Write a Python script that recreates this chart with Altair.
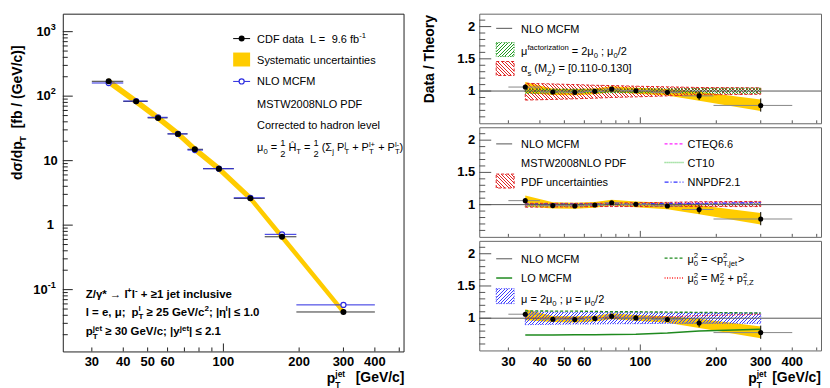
import math
import altair as alt
import pandas as pd

# ---------------- data ----------------
pt_center = [35, 45, 55, 66, 77, 96, 128, 171, 300]
pt_low = [30, 40, 50, 60, 72, 83, 110, 146, 195]
pt_high = [40, 50, 60, 72, 83, 110, 146, 195, 400]

xsec_data = [170, 83, 46, 26, 15, 7.5, 2.6, 0.66, 0.045]
xsec_stat_lo = [165, 81.5, 45.2, 25.5, 14.7, 7.33, 2.53, 0.63, 0.041]
xsec_stat_hi = [175, 84.5, 46.8, 26.5, 15.3, 7.67, 2.67, 0.69, 0.049]
xsec_sys_lo = [148, 73, 40.5, 23, 13.2, 6.6, 2.3, 0.58, 0.040]
xsec_sys_hi = [192, 94, 52, 29.5, 17, 8.5, 2.95, 0.75, 0.051]
xsec_nlo = [160, 84, 47, 26, 14.6, 7.5, 2.65, 0.72, 0.058]

ratio_data = [1.062, 0.985, 0.98, 0.995, 1.03, 1.005, 0.98, 0.925, 0.777]
ratio_stat_lo = [1.04, 0.97, 0.965, 0.98, 1.01, 0.985, 0.95, 0.86, 0.68]
ratio_stat_hi = [1.085, 1.0, 0.995, 1.01, 1.05, 1.025, 1.01, 0.99, 0.885]
ratio_sys_lo = [0.97, 0.94, 0.935, 0.95, 0.985, 0.96, 0.93, 0.85, 0.69]
ratio_sys_hi = [1.14, 1.035, 1.03, 1.04, 1.075, 1.05, 1.03, 0.99, 0.87]

muF_lo = [0.965, 0.97, 0.97, 0.975, 0.975, 0.975, 0.97, 0.97, 0.965]
muF_hi = [1.035, 1.03, 1.03, 1.03, 1.03, 1.035, 1.035, 1.04, 1.045]
alphas_lo = [0.86, 0.87, 0.88, 0.89, 0.90, 0.91, 0.925, 0.94, 0.95]
alphas_hi = [1.12, 1.11, 1.10, 1.09, 1.085, 1.075, 1.065, 1.055, 1.05]

pdf_lo = [0.96, 0.965, 0.965, 0.97, 0.97, 0.97, 0.97, 0.97, 0.97]
pdf_hi = [1.02, 1.02, 1.02, 1.02, 1.025, 1.03, 1.035, 1.045, 1.05]
cteq66 = [0.99, 0.99, 0.99, 1.0, 1.0, 1.0, 1.01, 1.02, 1.03]
ct10 = [0.98, 0.985, 0.99, 0.99, 1.0, 1.0, 1.0, 1.01, 1.02]
nnpdf21 = [1.01, 1.01, 1.01, 1.01, 1.01, 1.01, 1.02, 1.02, 1.03]

scale_lo = [0.90, 0.905, 0.91, 0.91, 0.915, 0.915, 0.92, 0.92, 0.92]
scale_hi = [1.10, 1.095, 1.09, 1.09, 1.085, 1.085, 1.08, 1.08, 1.08]
lo_mcfm = [0.74, 0.74, 0.742, 0.745, 0.748, 0.752, 0.77, 0.80, 0.83]
mu_ptjet = [1.115, 1.11, 1.11, 1.105, 1.10, 1.10, 1.095, 1.09, 1.08]
mu_mzptz = [1.0, 1.0, 1.0, 1.0, 1.01, 1.01, 1.02, 1.04, 1.06]

x_tick_labels = [30, 40, 50, 60, 100, 200, 300, 400]
y_left_sup_vals = [1000, 100, 0.1]
y_left_sup_text = ["3", "2", "-1"]
y_ratio_labels = [1, 1.5, 2]

df = pd.DataFrame(dict(
    pt=pt_center, lo=pt_low, hi=pt_high,
    d=xsec_data, d_lo=xsec_stat_lo, d_hi=xsec_stat_hi,
    s_lo=xsec_sys_lo, s_hi=xsec_sys_hi, nlo=xsec_nlo,
    r=ratio_data, r_lo=ratio_stat_lo, r_hi=ratio_stat_hi,
    rs_lo=ratio_sys_lo, rs_hi=ratio_sys_hi,
    muF_lo=muF_lo, muF_hi=muF_hi, as_lo=alphas_lo, as_hi=alphas_hi,
    pdf_lo=pdf_lo, pdf_hi=pdf_hi, cteq=cteq66, ct10=ct10, nnpdf=nnpdf21,
    sc_lo=scale_lo, sc_hi=scale_hi, lo_mcfm=lo_mcfm, mu1=mu_ptjet, mu2=mu_mzptz,
))

# ---------------- layout / style ----------------
FONT = "Liberation Sans"
X_DOM = [23, 520]
WL, HL = 342, 339
WR, HR = 343, 110
Y_DOM_L = [0.011, 1900]
Y_DOM_R = [0.5, 2.2]
OL = (62, 8)
OR1 = (477, 12)
OR2 = (477, 124)
OR3 = (477, 236)

xsL = alt.Scale(type="log", domain=X_DOM, nice=False)
xsR = alt.Scale(type="log", domain=X_DOM, nice=False)
ysL = alt.Scale(type="log", domain=Y_DOM_L, nice=False)
ysR = alt.Scale(type="linear", domain=Y_DOM_R, nice=False, zero=False)

one = pd.DataFrame({"k": [0]})

REG = {' ': 278, '(': 333, ')': 333, '*': 389, '+': 584, ',': 278, '-': 333, '.': 278, '/': 278,
       ':': 278, ';': 278, '<': 584, '=': 584, '>': 584, '[': 278, ']': 278, '|': 260,
       'A': 667, 'B': 667, 'C': 722, 'D': 722, 'E': 667, 'F': 611, 'G': 778, 'H': 722, 'I': 278,
       'J': 500, 'K': 667, 'L': 556, 'M': 833, 'N': 722, 'O': 778, 'P': 667, 'Q': 778, 'R': 722,
       'S': 667, 'T': 611, 'U': 722, 'V': 667, 'W': 944, 'X': 667, 'Y': 667, 'Z': 611,
       'a': 556, 'b': 556, 'c': 500, 'd': 556, 'e': 556, 'f': 278, 'g': 556, 'h': 556, 'i': 222,
       'j': 222, 'k': 500, 'l': 222, 'm': 833, 'n': 556, 'o': 556, 'p': 556, 'q': 556, 'r': 333,
       's': 500, 't': 278, 'u': 556, 'v': 500, 'w': 722, 'x': 500, 'y': 500, 'z': 500,
       'μ': 576, 'α': 578, 'σ': 617, 'γ': 500, 'η': 556, 'Σ': 639, '→': 1000, '≥': 549, '≤': 549, 'Ĥ': 722}
BOLD = dict(REG)
BOLD.update({':': 333, ';': 333, '[': 333, ']': 333, '|': 280, 'A': 722, 'B': 722, 'J': 556, 'K': 722,
             'L': 611, 'b': 611, 'c': 556, 'd': 611, 'f': 333, 'g': 611, 'h': 611, 'i': 278, 'j': 278,
             'k': 556, 'l': 278, 'm': 889, 'n': 611, 'o': 611, 'p': 611, 'q': 611, 'r': 389, 's': 556,
             't': 333, 'u': 611, 'v': 556, 'w': 778, 'x': 556, 'y': 556})
KINDS = {'n': (1.0, 0.0), 'sub': (0.7, 0.3), 'sup': (0.7, -0.42),
         'tsub': (0.6, 0.3), 'tsup': (0.6, -0.45),
         'fn': (0.85, -0.5), 'fd': (0.85, 0.55)}


def twidth(s, size, bold):
    tbl = BOLD if bold else REG
    return sum(tbl.get(ch, 556) for ch in s) / 1000.0 * size


def rich(pieces, x0, y0, size, origin, bold=False, vertical=False):
    ox, oy = origin
    rows = []
    adv = 0.0
    prev_start, prev_w = 0.0, 0.0
    for text, kind in pieces:
        stacked = kind.endswith('&')
        sf, dyf = KINDS[kind.rstrip('&')]
        fs = size * sf
        stripped = text.lstrip(' ')
        lead = twidth(text[:len(text) - len(stripped)], fs, bold)
        w = twidth(text, fs, bold)
        if stacked:
            start = prev_start
            prev_w = max(prev_w, w)
            adv = prev_start + prev_w
        else:
            start = adv
            adv = adv + w
            prev_start, prev_w = start, w
        off = dyf * size
        if vertical:
            px, py = x0 + off, y0 - start - lead
        else:
            px, py = x0 + start + lead, y0 + off
        rows.append(dict(px=px - ox, py=py - oy, t=stripped, fs=fs))
    return rows


def text_layer(rows, bold=False, angle=None, color="black"):
    kw = dict(align="left", baseline="alphabetic", font=FONT, color=color)
    if bold:
        kw["fontWeight"] = "bold"
    if angle is not None:
        kw["angle"] = angle
    return alt.Chart(pd.DataFrame(rows)).mark_text(**kw).encode(
        x=alt.X("px:Q", scale=None, axis=None),
        y=alt.Y("py:Q", scale=None, axis=None),
        text="t:N",
        size=alt.Size("fs:Q", scale=None, legend=None),
    )


def seg(x1, x2, y1, y2, origin, color, width=1.0, dash=None):
    ox, oy = origin
    kw = dict(color=color, strokeWidth=width)
    if dash:
        kw["strokeDash"] = dash
    return alt.Chart(one).mark_rule(**kw).encode(
        x=alt.value(x1 - ox), x2=alt.value(x2 - ox), y=alt.value(y1 - oy), y2=alt.value(y2 - oy))


def spacer(x, y1, y2):
    return alt.Chart(one).mark_rule(opacity=0, strokeWidth=0.01).encode(
        x=alt.value(x), x2=alt.value(x), y=alt.value(y1), y2=alt.value(y2))


def box(x1, x2, y1, y2, origin, fill, stroke=None, dash=None):
    ox, oy = origin
    kw = dict(fill=fill, opacity=1)
    if stroke:
        kw["stroke"] = stroke
        kw["strokeWidth"] = 1
    if dash:
        kw["strokeDash"] = dash
    return alt.Chart(one).mark_rect(**kw).encode(
        x=alt.value(x1 - ox), x2=alt.value(x2 - ox), y=alt.value(y1 - oy), y2=alt.value(y2 - oy))


def hatch(color, W, H, direction, period=3.4, lw=1.0):
    r = H / W
    k = (1 + r) / (1 + r * r)
    span = W + H
    dt, lwt = period / span, lw / span
    clear = "rgba(255,255,255,0)"
    stops = [{"offset": 0.0, "color": clear}]
    t = dt * 0.5
    while t + lwt < 1.0:
        a, b = round(t, 5), round(t + lwt, 5)
        stops += [{"offset": a, "color": clear}, {"offset": a, "color": color},
                  {"offset": b, "color": color}, {"offset": b, "color": clear}]
        t += dt
    stops.append({"offset": 1.0, "color": clear})
    if direction == "/":
        return {"gradient": "linear", "x1": 0, "y1": 0, "x2": k, "y2": k * r, "stops": stops}
    return {"gradient": "linear", "x1": 0, "y1": 1, "x2": k, "y2": 1 - k * r, "stops": stops}


def xpix(v):
    return WR * (math.log10(v) - math.log10(X_DOM[0])) / (math.log10(X_DOM[1]) - math.log10(X_DOM[0]))


BAND_W = xpix(pt_center[-1]) - xpix(pt_center[0])


def band_h(lo, hi):
    return (max(hi) - min(lo)) * HR / (Y_DOM_R[1] - Y_DOM_R[0])


GREEN_H, RED_H, BLUE_H = "#1f9a1f", "#e02424", "#3a3aff"


# ---------------- tick labels (drawn through the scales) ----------------
def x_labels(xs, y):
    d = pd.DataFrame({"v": x_tick_labels, "t": [str(v) for v in x_tick_labels]})
    return alt.Chart(d).mark_text(align="center", baseline="alphabetic", font=FONT, fontWeight="bold",
                                  fontSize=13, color="black").encode(
        x=alt.X("v:Q", scale=xs, axis=None), y=alt.value(y), text="t:N")


def y_labels_left():
    layers = []
    sup_w = [twidth(s, 13 * 0.7, True) for s in y_left_sup_text]
    d_sup = pd.DataFrame({"v": y_left_sup_vals, "t": y_left_sup_text})
    layers.append(alt.Chart(d_sup).mark_text(align="right", baseline="middle", font=FONT, fontWeight="bold",
                                             fontSize=13 * 0.7, color="black", dy=-5).encode(
        y=alt.Y("v:Q", scale=ysL, axis=None), x=alt.value(-7), text="t:N"))
    for v, w in zip(y_left_sup_vals, sup_w):
        layers.append(alt.Chart(pd.DataFrame({"v": [v], "t": ["10"]})).mark_text(
            align="right", baseline="middle", font=FONT, fontWeight="bold", fontSize=13, color="black").encode(
            y=alt.Y("v:Q", scale=ysL, axis=None), x=alt.value(-7 - w), text="t:N"))
    layers.append(alt.Chart(pd.DataFrame({"v": [10], "t": ["10"]})).mark_text(
        align="right", baseline="middle", font=FONT, fontWeight="bold", fontSize=13, color="black").encode(
        y=alt.Y("v:Q", scale=ysL, axis=None), x=alt.value(-5), text="t:N"))
    layers.append(alt.Chart(pd.DataFrame({"v": [1], "t": ["1"]})).mark_text(
        align="right", baseline="middle", font=FONT, fontWeight="bold", fontSize=13, color="black").encode(
        y=alt.Y("v:Q", scale=ysL, axis=None), x=alt.value(-9), text="t:N"))
    return layers


def y_labels_ratio():
    d = pd.DataFrame({"v": y_ratio_labels, "t": ["1", "1.5", "2"]})
    return alt.Chart(d).mark_text(align="right", baseline="middle", font=FONT, fontWeight="bold",
                                  fontSize=13, color="black").encode(
        y=alt.Y("v:Q", scale=ysR, axis=None), x=alt.value(-4), text="t:N")


# ---------------- tick marks (inward, ROOT style) ----------------
x_minor = [30, 40, 50, 60, 70, 80, 90, 200, 300, 400, 500]
x_major = [100]
yL_major = [0.1, 1, 10, 100, 1000]
yL_minor = [m * 10.0 ** e for e in range(-2, 4) for m in range(2, 10)
            if Y_DOM_L[0] < m * 10.0 ** e < Y_DOM_L[1]]
yR_major = [1, 1.5, 2]
yR_minor = [0.6, 0.7, 0.8, 0.9, 1.1, 1.2, 1.3, 1.4, 1.6, 1.7, 1.8, 1.9, 2.1]


def xticks(vals, xs, H, L, color):
    return alt.Chart(pd.DataFrame({"v": vals})).mark_rule(color=color, strokeWidth=1).encode(
        x=alt.X("v:Q", scale=xs, axis=None), y=alt.value(H), y2=alt.value(H - L))


def yticks(vals, ys, L, color):
    return alt.Chart(pd.DataFrame({"v": vals})).mark_rule(color=color, strokeWidth=1).encode(
        y=alt.Y("v:Q", scale=ys, axis=None), x=alt.value(0), x2=alt.value(L))


# ---------------- left panel ----------------
base = alt.Chart(df)
L_band = base.mark_area(color="#ffcc00", opacity=1).encode(
    x=alt.X("pt:Q", scale=xsL, axis=None),
    y=alt.Y("s_lo:Q", scale=ysL, axis=None), y2="s_hi:Q")
L_dh = base.mark_rule(color="#333333", strokeWidth=1).encode(
    x=alt.X("lo:Q", scale=xsL, axis=None), x2="hi:Q", y=alt.Y("d:Q", scale=ysL, axis=None))
L_dv = base.mark_rule(color="#333333", strokeWidth=1).encode(
    x=alt.X("pt:Q", scale=xsL, axis=None), y=alt.Y("d_lo:Q", scale=ysL, axis=None), y2="d_hi:Q")
L_nh = base.mark_rule(color="#2a2ae0", strokeWidth=1).encode(
    x=alt.X("lo:Q", scale=xsL, axis=None), x2="hi:Q", y=alt.Y("nlo:Q", scale=ysL, axis=None))
L_np = base.mark_point(shape="circle", size=26, stroke="#2a2ae0", fill="white", strokeWidth=1.2,
                       opacity=1, fillOpacity=1).encode(
    x=alt.X("pt:Q", scale=xsL, axis=None), y=alt.Y("nlo:Q", scale=ysL, axis=None))
L_dp = base.mark_circle(size=36, color="black", opacity=1).encode(
    x=alt.X("pt:Q", scale=xsL, axis=None), y=alt.Y("d:Q", scale=ysL, axis=None))

L_ticks = [xticks(x_minor, xsL, HL, 4, "#222"), xticks(x_major, xsL, HL, 8, "#222"),
           yticks(yL_minor, ysL, 5, "#222"), yticks(yL_major, ysL, 10, "#222")]

L_leg = [
    seg(233, 250, 33, 33, OL, "black"),
    alt.Chart(one).mark_circle(size=36, color="black", opacity=1).encode(
        x=alt.value(241.5 - OL[0]), y=alt.value(33 - OL[1])),
    box(233, 250, 47, 61, OL, "#ffcc00"),
    seg(233, 250, 76, 76, OL, "#2a2ae0"),
    alt.Chart(one).mark_point(shape="circle", size=26, stroke="#2a2ae0", fill="white", strokeWidth=1.2,
                              opacity=1, fillOpacity=1).encode(
        x=alt.value(241.5 - OL[0]), y=alt.value(76 - OL[1])),
]

L_reg = []
L_reg += rich([("CDF data", "n"), ("  L =", "n"), ("  9.6 fb", "n"), ("-1", "sup")], 257, 37, 11, OL)
L_reg += rich([("Systematic uncertainties", "n")], 257, 59, 11, OL)
L_reg += rich([("NLO MCFM", "n")], 257, 80, 11, OL)
L_reg += rich([("MSTW2008NLO PDF", "n")], 257, 103, 11, OL)
L_reg += rich([("Corrected to hadron level", "n")], 257, 124, 11, OL)
L_reg += rich([("μ", "n"), ("0", "sub"), (" = ", "n"), ("1", "fn"), ("2", "fd&"), (" Ĥ", "n"), ("T", "sub"),
               (" = ", "n"), ("1", "fn"), ("2", "fd&"), (" (Σ", "n"), ("j", "sub"), (" P", "n"), ("T", "sub"),
               ("j", "sup&"), (" + P", "n"), ("T", "sub"), ("l+", "sup&"), (" + P", "n"), ("T", "sub"),
               ("l-", "sup&"), (")", "n")], 257, 146, 11, OL)

L_bold = []
L_bold += rich([("Z/γ* → l", "n"), ("+", "sup"), ("l", "n"), ("-", "sup"), (" + ≥1 jet inclusive", "n")],
               85, 293, 11.5, OL, bold=True)
L_bold += rich([("l = e, μ;", "n"), ("  p", "n"), ("T", "sub"), ("l", "sup&"), (" ≥ 25 GeV/c", "n"), ("2", "sup"),
                ("; |η", "n"), ("l", "sup"), ("| ≤ 1.0", "n")], 85, 311, 11.5, OL, bold=True)
L_bold += rich([("p", "n"), ("T", "sub"), ("jet", "sup&"), (" ≥ 30 GeV/c; |y", "n"), ("jet", "sup"),
                ("| ≤ 2.1", "n")], 85, 331, 11.5, OL, bold=True)

L_title = []
L_title += rich([("p", "n"), ("T", "tsub"), ("jet", "tsup&")], 327, 379, 14, OL, bold=True)
L_title += rich([("[GeV/c]", "n")], 356, 378, 14, OL, bold=True)

L_vtitle = rich([("dσ/dp", "n"), ("T", "sub"), ("  [fb / (GeV/c)]", "n")], 21, 175, 14, OL, bold=True,
                vertical=True)

left = alt.layer(
    L_band, L_dh, L_dv, L_nh, L_np, L_dp, *L_ticks, *L_leg,
    x_labels(xsL, HL + 14.4), *y_labels_left(),
    text_layer(L_reg), text_layer(L_bold, bold=True), text_layer(L_title, bold=True),
    text_layer(L_vtitle, bold=True, angle=270),
    spacer(-54, 0, 1),
).properties(width=WL, height=HL, view=alt.ViewBackground(stroke="#222", strokeWidth=1))


# ---------------- ratio panels ----------------
def ratio_band():
    return base.mark_area(color="#ffcc00", opacity=1).encode(
        x=alt.X("pt:Q", scale=xsR, axis=None),
        y=alt.Y("rs_lo:Q", scale=ysR, axis=None), y2="rs_hi:Q")


def hband(lo_col, hi_col, lo, hi, color, direction, dash):
    return base.mark_area(fill=hatch(color, BAND_W, band_h(lo, hi), direction), stroke=color,
                          strokeWidth=1, strokeDash=dash, opacity=1).encode(
        x=alt.X("pt:Q", scale=xsR, axis=None), y=alt.Y(lo_col + ":Q", scale=ysR, axis=None), y2=hi_col + ":Q")


def rline(col, color, dash=None, width=1.2):
    kw = dict(color=color, strokeWidth=width)
    if dash:
        kw["strokeDash"] = dash
    return base.mark_line(**kw).encode(x=alt.X("pt:Q", scale=xsR, axis=None),
                                       y=alt.Y(col + ":Q", scale=ysR, axis=None))


def ratio_common_post():
    return [
        alt.Chart(one).mark_rule(color="#555555", strokeWidth=1).encode(y=alt.datum(1, scale=ysR, axis=None)),
        base.mark_rule(color="#888888", strokeWidth=1).encode(
            x=alt.X("lo:Q", scale=xsR, axis=None), x2="hi:Q", y=alt.Y("r:Q", scale=ysR, axis=None)),
        base.mark_rule(color="black", strokeWidth=1).encode(
            x=alt.X("pt:Q", scale=xsR, axis=None), y=alt.Y("r_lo:Q", scale=ysR, axis=None), y2="r_hi:Q"),
        base.mark_circle(size=26, color="black", opacity=1).encode(
            x=alt.X("pt:Q", scale=xsR, axis=None), y=alt.Y("r:Q", scale=ysR, axis=None)),
        xticks(x_minor, xsR, HR, 3, "#555"), xticks(x_major, xsR, HR, 6, "#555"),
        yticks(yR_minor, ysR, 6, "#555"), yticks(yR_major, ysR, 12, "#555"),
        y_labels_ratio(),
    ]


def lbox(y1, y2, origin, color, direction, dash):
    return box(494, 512, y1, y2, origin, hatch(color, 18, y2 - y1, direction), stroke=color, dash=dash)


GRAY = "#555555"
VIEW_R = alt.ViewBackground(stroke="#666", strokeWidth=1)

# panel 1
R1_reg = []
R1_reg += rich([("NLO MCFM", "n")], 519, 31, 11, OR1)
R1_reg += rich([("μ", "n"), ("factorization", "sup"), (" = 2μ", "n"), ("0", "sub"), (" ; μ", "n"), ("0", "sub"),
                ("/2", "n")], 519, 53, 11, OR1)
R1_reg += rich([("α", "n"), ("s", "sub"), (" (M", "n"), ("Z", "sub"), (") = [0.110-0.130]", "n")], 519, 71, 11, OR1)
R1_vt = rich([("Data / Theory", "n")], 432, 102, 14, OR1, bold=True, vertical=True)

R1 = alt.layer(
    ratio_band(),
    hband("as_lo", "as_hi", alphas_lo, alphas_hi, RED_H, "\\", [3, 2]),
    hband("muF_lo", "muF_hi", muF_lo, muF_hi, GREEN_H, "/", [1, 1.5]),
    *ratio_common_post(),
    seg(494, 510, 26.7, 26.7, OR1, GRAY),
    lbox(41, 55, OR1, GREEN_H, "/", [1, 1.5]),
    lbox(60, 74, OR1, RED_H, "\\", [3, 2]),
    text_layer(R1_reg), text_layer(R1_vt, bold=True, angle=270),
    spacer(-57, -4, 0),
).properties(width=WR, height=HR, view=VIEW_R)

# panel 2
R2_reg = []
R2_reg += rich([("NLO MCFM", "n")], 519, 145, 11, OR2)
R2_reg += rich([("MSTW2008NLO PDF", "n")], 519, 164, 11, OR2)
R2_reg += rich([("PDF uncertainties", "n")], 519, 183, 11, OR2)
R2_reg += rich([("CTEQ6.6", "n")], 686, 145, 11, OR2)
R2_reg += rich([("CT10", "n")], 686, 164, 11, OR2)
R2_reg += rich([("NNPDF2.1", "n")], 686, 183, 11, OR2)

R2 = alt.layer(
    ratio_band(),
    hband("pdf_lo", "pdf_hi", pdf_lo, pdf_hi, RED_H, "\\", [3, 2]),
    rline("cteq", "#ff22ff", [3, 2]),
    rline("ct10", "#66cc66", [1, 1], 1.5),
    rline("nnpdf", "#3333ff", [4, 2, 1, 2]),
    *ratio_common_post(),
    seg(494, 510, 140.7, 140.7, OR2, GRAY),
    lbox(171, 185, OR2, RED_H, "\\", [3, 2]),
    seg(663, 682, 140.7, 140.7, OR2, "#ff22ff", 1.2, [3, 2]),
    seg(663, 682, 159.3, 159.3, OR2, "#66cc66", 1.5, [1, 1]),
    seg(663, 682, 179, 179, OR2, "#3333ff", 1.2, [4, 2, 1, 2]),
    text_layer(R2_reg),
    spacer(-57, 0, 1),
).properties(width=WR, height=HR, view=VIEW_R)

# panel 3
R3_reg = []
R3_reg += rich([("NLO MCFM", "n")], 519, 258, 11, OR3)
R3_reg += rich([("LO MCFM", "n")], 519, 277.5, 11, OR3)
R3_reg += rich([("μ = 2μ", "n"), ("0", "sub"), (" ; μ = μ", "n"), ("0", "sub"), ("/2", "n")], 519, 298, 11, OR3)
R3_reg += rich([("μ", "n"), ("2", "sup"), ("0", "sub&"), (" = <p", "n"), ("2", "sup"), ("T,jet", "sub&"), (">", "n")],
               686, 258, 11, OR3)
R3_reg += rich([("μ", "n"), ("2", "sup"), ("0", "sub&"), (" = M", "n"), ("2", "sup"), ("Z", "sub&"), (" + p", "n"),
                ("2", "sup"), ("T,Z", "sub&")], 686, 277.5, 11, OR3)
R3_title = []
R3_title += rich([("p", "n"), ("T", "tsub"), ("jet", "tsup&")], 747, 379, 14, OR3, bold=True)
R3_title += rich([("[GeV/c]", "n")], 771, 378, 14, OR3, bold=True)

R3 = alt.layer(
    ratio_band(),
    rline("lo_mcfm", "#1f8a1f", None, 1.5),
    hband("sc_lo", "sc_hi", scale_lo, scale_hi, BLUE_H, "/", [1, 1.5]),
    rline("mu1", "#1f8a1f", [3, 2], 1.4),
    rline("mu2", "#ff2222", [1, 1.5], 1.4),
    *ratio_common_post(),
    x_labels(xsR, HR + 15.4),
    seg(494, 510, 254, 254, OR3, GRAY),
    seg(494, 510, 273.3, 273.3, OR3, "#1f8a1f", 1.5),
    lbox(284, 299, OR3, BLUE_H, "/", [1, 1.5]),
    seg(663, 682, 253.3, 253.3, OR3, "#1f8a1f", 1.4, [3, 2]),
    seg(663, 682, 273.3, 273.3, OR3, "#ff2222", 1.4, [1, 1.5]),
    text_layer(R3_reg), text_layer(R3_title, bold=True),
    spacer(-57, 0, 1),
).properties(width=WR, height=HR, view=VIEW_R)

right = alt.vconcat(R1, R2, R3, spacing=2)

chart = alt.hconcat(left, right, spacing=16).properties(
    padding=0, background="white"
).configure(font=FONT)

chart.save("out.html", embed_options={"renderer": "svg", "actions": False})
